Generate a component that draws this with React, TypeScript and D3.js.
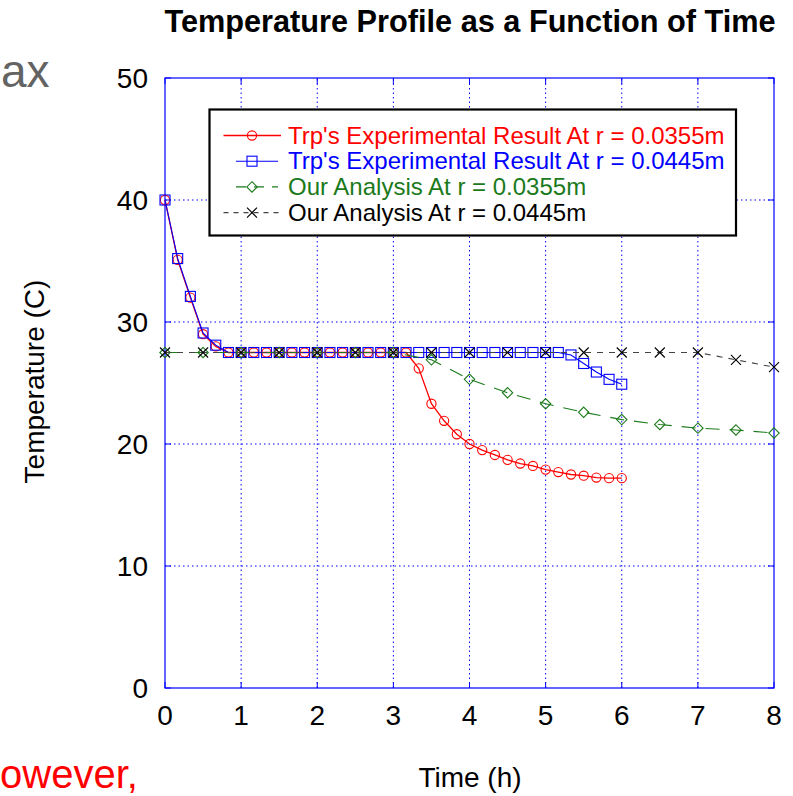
import React from "react";
import * as d3 from "d3";

// ---- data ----
const X_TICKS = [0, 1, 2, 3, 4, 5, 6, 7, 8];
const Y_TICKS = [0, 10, 20, 30, 40, 50];

// experimental samples (every 10 min, in hours)
const EXP_TIMES = [
  0, 0.1667, 0.3333, 0.5, 0.6667, 0.8333, 1, 1.1667, 1.3333, 1.5, 1.6667, 1.8333,
  2, 2.1667, 2.3333, 2.5, 2.6667, 2.8333, 3, 3.1667, 3.3333, 3.5, 3.6667, 3.8333,
  4, 4.1667, 4.3333, 4.5, 4.6667, 4.8333, 5, 5.1667, 5.3333, 5.5, 5.6667, 5.8333, 6,
];
const RED_EXP = [
  40, 35.1, 32.0, 29.0, 28.0, 27.5, 27.5, 27.5, 27.5, 27.5, 27.5, 27.5,
  27.5, 27.5, 27.5, 27.5, 27.5, 27.5, 27.5, 27.5, 26.2, 23.3, 21.9, 20.8,
  20.0, 19.5, 19.1, 18.7, 18.4, 18.2, 17.9, 17.7, 17.5, 17.4, 17.25, 17.2, 17.2,
];
const BLUE_EXP = [
  40, 35.2, 32.1, 29.1, 28.1, 27.5, 27.5, 27.5, 27.5, 27.5, 27.5, 27.5,
  27.5, 27.5, 27.5, 27.5, 27.5, 27.5, 27.5, 27.5, 27.5, 27.5, 27.5, 27.5,
  27.5, 27.5, 27.5, 27.5, 27.5, 27.5, 27.5, 27.5, 27.3, 26.6, 25.9, 25.3, 24.9,
];
// analysis (every 0.5 h)
const ANA_TIMES = [0, 0.5, 1, 1.5, 2, 2.5, 3, 3.5, 4, 4.5, 5, 5.5, 6, 6.5, 7, 7.5, 8];
const GREEN_ANA = [27.5, 27.5, 27.5, 27.5, 27.5, 27.5, 27.5, 26.9, 25.3, 24.2, 23.3, 22.6, 22.0, 21.6, 21.3, 21.15, 20.9];
const BLACK_ANA = [27.5, 27.5, 27.5, 27.5, 27.5, 27.5, 27.5, 27.5, 27.5, 27.5, 27.5, 27.5, 27.5, 27.5, 27.5, 26.9, 26.3];

const LEGEND_LABELS = [
  "Trp's Experimental Result At r = 0.0355m",
  "Trp's Experimental Result At r = 0.0445m",
  "Our Analysis At r = 0.0355m",
  "Our Analysis At r = 0.0445m",
];

const TITLE = "Temperature Profile as a Function of Time";
const X_LABEL = "Time (h)";
const Y_LABEL = "Temperature (C)";

const FONT = "'Liberation Sans', Arial, Helvetica, sans-serif";
const RED = "#ff0000";
const BLUE = "#0000ff";
const GREEN = "#1b7a1b";
const BLACK = "#000000";

type MarkerKind = "circle" | "square" | "diamond" | "x";

function Marker({ kind, cx, cy, color }: { kind: MarkerKind; cx: number; cy: number; color: string }) {
  if (kind === "circle")
    return <circle cx={cx} cy={cy} r={4.6} fill="none" stroke={color} strokeWidth={1.1} />;
  if (kind === "square")
    return <rect x={cx - 5} y={cy - 5} width={10} height={10} fill="none" stroke={color} strokeWidth={1.1} />;
  if (kind === "diamond")
    return (
      <polygon
        points={`${cx},${cy - 5.2} ${cx + 5.2},${cy} ${cx},${cy + 5.2} ${cx - 5.2},${cy}`}
        fill="none"
        stroke={color}
        strokeWidth={1.1}
      />
    );
  return (
    <path
      d={`M${cx - 5},${cy - 5}L${cx + 5},${cy + 5}M${cx - 5},${cy + 5}L${cx + 5},${cy - 5}`}
      stroke={color}
      strokeWidth={1.1}
      fill="none"
    />
  );
}

export default function App() {
  const x = d3.scaleLinear().domain([0, 8]).range([165, 774]);
  const y = d3.scaleLinear().domain([0, 50]).range([688, 78]);
  const [x0, x1] = x.range();
  const [y0, y1] = y.range();

  const line = d3
    .line<[number, number]>()
    .x((d) => x(d[0]))
    .y((d) => y(d[1]));

  const series = [
    { t: EXP_TIMES, v: RED_EXP, color: RED, lineColor: RED, kind: "circle" as MarkerKind, dash: undefined as string | undefined, w: 1.3 },
    { t: EXP_TIMES, v: BLUE_EXP, color: BLUE, lineColor: BLUE, kind: "square" as MarkerKind, dash: undefined, w: 1.1 },
    { t: ANA_TIMES, v: GREEN_ANA, color: GREEN, lineColor: GREEN, kind: "diamond" as MarkerKind, dash: "14,10", w: 1.1 },
    { t: ANA_TIMES, v: BLACK_ANA, color: BLACK, lineColor: "#444", kind: "x" as MarkerKind, dash: "6,6", w: 1.1 },
  ];

  const legX0 = 209.5, legX1 = 736, legY0 = 109.5, legY1 = 235.5;
  const legRowY = (i: number) => 143.5 + i * 25.7;

  return (
    <svg
      width={793}
      height={796}
      style={{ position: "absolute", left: 0, top: 0, background: "#fff" }}
      fontFamily={FONT}
    >
      <rect x={0} y={0} width={793} height={796} fill="#fff" />
      {/* slide fragments */}
      <text x={1} y={87} fontSize={46} fill="#636363">ax</text>
      <text x={0} y={788} fontSize={40} fill={RED}>owever,</text>

      {/* title */}
      <text x={470} y={32} textAnchor="middle" fontSize={30.7} fontWeight="bold" fill="#000">{TITLE}</text>

      {/* grid */}
      <g stroke={BLUE} strokeWidth={1} strokeDasharray="1.5,3">
        {X_TICKS.slice(1, -1).map((t) => (
          <line key={"gx" + t} x1={x(t)} x2={x(t)} y1={y0} y2={y1} />
        ))}
        {Y_TICKS.slice(1, -1).map((t) => (
          <line key={"gy" + t} x1={x0} x2={x1} y1={y(t)} y2={y(t)} />
        ))}
      </g>

      {/* frame and ticks */}
      <rect x={x0} y={y1} width={x1 - x0} height={y0 - y1} fill="none" stroke={BLUE} strokeWidth={1.2} />
      <g stroke={BLUE} strokeWidth={1}>
        {X_TICKS.map((t) => (
          <g key={"tx" + t}>
            <line x1={x(t)} x2={x(t)} y1={y0} y2={y0 - 6} />
            <line x1={x(t)} x2={x(t)} y1={y1} y2={y1 + 6} />
          </g>
        ))}
        {Y_TICKS.map((t) => (
          <g key={"ty" + t}>
            <line x1={x0} x2={x0 + 6} y1={y(t)} y2={y(t)} />
            <line x1={x1} x2={x1 - 6} y1={y(t)} y2={y(t)} />
          </g>
        ))}
      </g>

      {/* tick labels */}
      {X_TICKS.map((t) => (
        <text key={"lx" + t} x={x(t)} y={725} textAnchor="middle" fontSize={28} fill="#000">{t}</text>
      ))}
      {Y_TICKS.map((t) => (
        <text key={"ly" + t} x={148} y={y(t) + 10} textAnchor="end" fontSize={28} fill="#000">{t}</text>
      ))}

      {/* axis labels */}
      <text x={470} y={787} textAnchor="middle" fontSize={28} fill="#000">{X_LABEL}</text>
      <text transform={`translate(44,381.5) rotate(-90)`} textAnchor="middle" fontSize={28} fill="#000">{Y_LABEL}</text>

      {/* series */}
      {series.map((s, si) => {
        const pts = s.t.map((t, i) => [t, s.v[i]] as [number, number]);
        return (
          <g key={"s" + si}>
            <path d={line(pts) || ""} fill="none" stroke={s.lineColor} strokeWidth={s.w} strokeDasharray={s.dash} />
            {pts.map((p, i) => (
              <Marker key={i} kind={s.kind} cx={x(p[0])} cy={y(p[1])} color={s.color} />
            ))}
          </g>
        );
      })}

      {/* legend */}
      <rect x={legX0} y={legY0} width={legX1 - legX0} height={legY1 - legY0} fill="#fff" stroke="#000" strokeWidth={2.2} />
      {series.map((s, i) => {
        const cy = legRowY(i) - 8;
        const la = i === 0 || i === 3 ? 223.5 : 236;
        const lb = i === 0 || i === 3 ? 281 : 278;
        return (
          <g key={"leg" + i}>
            <line x1={la} x2={lb} y1={cy} y2={cy} stroke={s.lineColor} strokeWidth={s.w} strokeDasharray={i === 2 ? "10,8" : i === 3 ? "5,5" : undefined} />
            <Marker kind={s.kind} cx={252} cy={cy} color={s.color} />
            <text x={288} y={legRowY(i)} fontSize={24} fill={s.color}>{LEGEND_LABELS[i]}</text>
          </g>
        );
      })}
    </svg>
  );
}
